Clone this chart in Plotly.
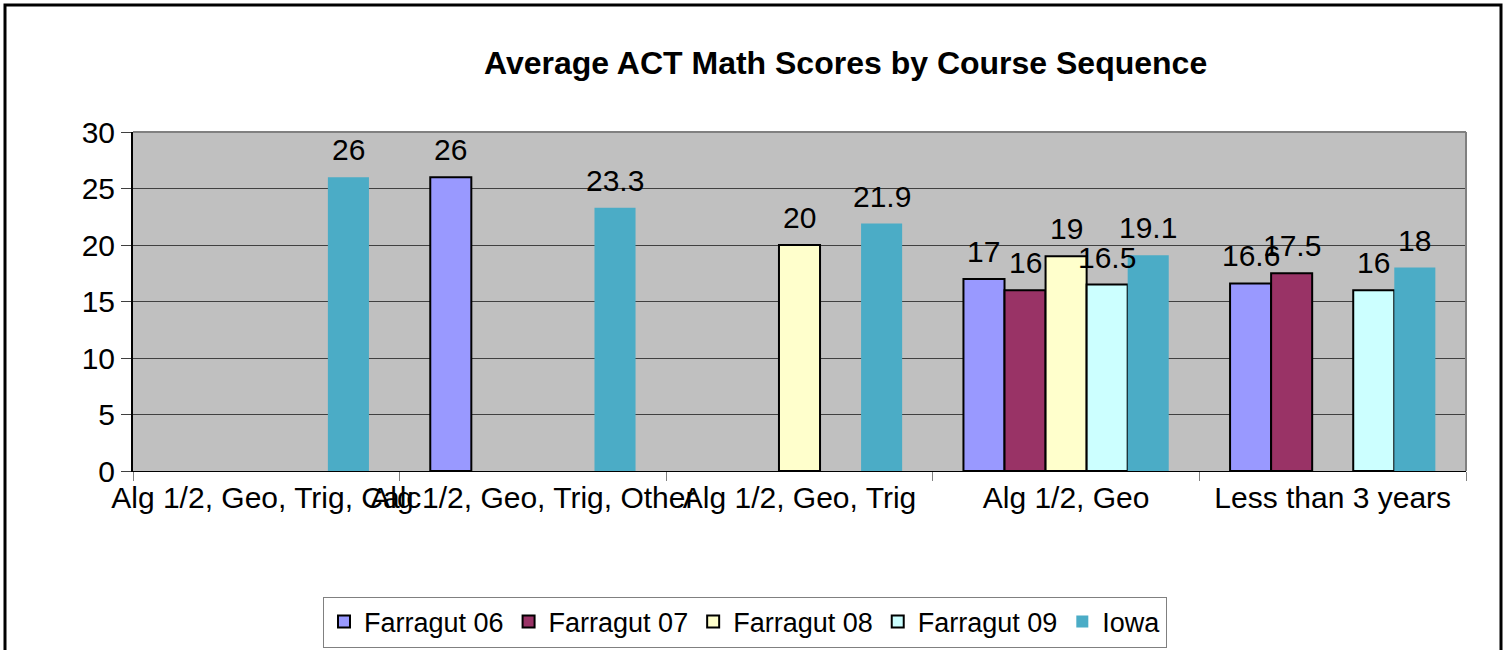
import plotly.graph_objects as go

categories = ["Alg 1/2, Geo, Trig, Calc", "Alg 1/2, Geo, Trig, Other", "Alg 1/2, Geo, Trig", "Alg 1/2, Geo", "Less than 3 years"]
farragut_06 = [None, 26, None, 17, 16.6]
farragut_07 = [None, None, None, 16, 17.5]
farragut_08 = [None, None, 20, 19, None]
farragut_09 = [None, None, None, 16.5, 16]
iowa = [26, 23.3, 21.9, 19.1, 18]

series = [
    ("Farragut 06", farragut_06, "#9999FF", True),
    ("Farragut 07", farragut_07, "#993366", True),
    ("Farragut 08", farragut_08, "#FFFFCC", True),
    ("Farragut 09", farragut_09, "#CCFFFF", True),
    ("Iowa", iowa, "#4BACC6", False),
]

FONT = "Liberation Sans, Arial, sans-serif"
W, H = 1504, 650
PX0, PX1, PY0, PY1 = 133, 1466, 132, 471  # plot area in pixels
L, R, T, B = PX0, W - PX1, PY0, H - PY1
pw, ph = W - L - R, H - T - B
BARGAP = 0.23
n = len(series)
bar_px = pw / len(categories) * (1 - BARGAP) / n

def px_x(x):
    return (x - L) / pw

def px_y(y):
    return (H - B - y) / ph

fig = go.Figure()
annotations = []
for i, (name, vals, color, outline) in enumerate(series):
    fig.add_trace(go.Bar(
        name=name, x=categories, y=vals,
        marker=dict(color=color, line=dict(color="black", width=2 if outline else 0)),
    ))
    for cat, v in zip(categories, vals):
        if v is None:
            continue
        annotations.append(dict(
            x=cat, y=v, xref="x", yref="y", text=f"{v:g}", showarrow=False,
            xanchor="center", yanchor="bottom", xshift=(i - (n - 1) / 2) * bar_px, yshift=9,
            font=dict(family=FONT, size=30, color="black"),
        ))

annotations.append(dict(text="<b>Average ACT Math Scores by Course Sequence</b>",
                        x=px_x(846), y=px_y(63), xref="paper", yref="paper",
                        xanchor="center", yanchor="middle", showarrow=False,
                        font=dict(size=32, family=FONT, color="black")))

fig.update_layout(
    width=W, height=H,
    margin=dict(l=L, r=R, t=T, b=B, autoexpand=False),
    paper_bgcolor="white", plot_bgcolor="#C0C0C0",
    barmode="group", bargap=BARGAP, bargroupgap=0,
    font=dict(family=FONT, size=30, color="black"),
    showlegend=True,
    legend=dict(orientation="h", x=px_x(323), xanchor="left", y=px_y(622), yanchor="middle",
                bordercolor="#808080", borderwidth=1, font=dict(size=27, family=FONT),
                bgcolor="white", traceorder="normal", itemwidth=30),
    xaxis=dict(type="category", tickangle=0, showline=True, linecolor="black", linewidth=1,
               ticks="outside", tickson="boundaries", ticklen=9, tickcolor="#808080",
               tickfont=dict(size=30, family=FONT), showgrid=False, mirror=False,
               automargin=False),
    yaxis=dict(range=[0, 30], dtick=5, showline=True, linecolor="black", linewidth=2,
               ticks="outside", ticklen=10, tickcolor="#404040",
               tickfont=dict(size=30, family=FONT), showgrid=True, gridcolor="#404040",
               gridwidth=1, zeroline=False, automargin=False),
    annotations=annotations,
    shapes=[
        dict(type="line", xref="paper", yref="paper", x0=0, x1=1, y0=1, y1=1,
             line=dict(color="#808080", width=2)),
        dict(type="line", xref="paper", yref="paper", x0=1, x1=1, y0=0, y1=1,
             line=dict(color="#808080", width=2)),
        dict(type="rect", xref="paper", yref="paper", x0=px_x(5), x1=px_x(1501),
             y0=px_y(660), y1=px_y(5), line=dict(color="black", width=3), layer="above"),
    ],
)

fig.write_html("out.html", config={"displayModeBar": False},
               post_script="document.body.style.margin='0';")
